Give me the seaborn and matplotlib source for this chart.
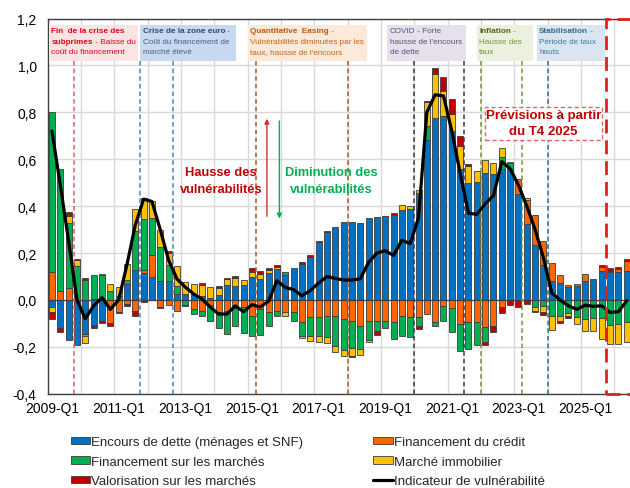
import numpy as np
import pandas as pd
import matplotlib.pyplot as plt
import seaborn as sns
from matplotlib.patches import Rectangle, Patch
from matplotlib.lines import Line2D

sns.set_theme(style="white")
plt.rcParams["font.family"] = ["Liberation Sans", "DejaVu Sans"]

# quarters 2009-Q1 ... 2026-Q2
quarters = [f"{2009 + i // 4}-Q{i % 4 + 1}" for i in range(70)]

# contributions (signed)
encours = [-0.03, -0.12, -0.17, -0.19, -0.145, -0.105, -0.09, 0, 0, 0.07,
           0.128, 0.115, 0.10, 0.08, 0.08, 0.026, 0.025, 0.02, 0.018, 0.01,
           0.02, 0.063, 0.06, 0.065, 0.10, 0.09, 0.115, 0.13, 0.107, 0.135,
           0.153, 0.185, 0.246, 0.29, 0.31, 0.334, 0.334, 0.33, 0.348, 0.352,
           0.36, 0.364, 0.385, 0.388, 0.456, 0.68, 0.774, 0.786, 0.722, 0.558,
           0.499, 0.502, 0.54, 0.537, 0.558, 0.558, 0.452, 0.324, 0.234, 0.149,
           0.082, 0.072, 0.055, 0.058, 0.082, 0.09, 0.125, 0.121, 0.121, 0.125]
credit = [0.12, 0.04, 0.05, 0, -0.008, 0.005, 0.005, -0.10, -0.05, -0.015,
          -0.045, 0.013, 0.09, -0.028, -0.02, -0.045, 0, -0.04, -0.045, -0.02,
          -0.05, -0.045, -0.035, -0.03, -0.07, -0.04, -0.05, -0.045, -0.05, -0.05,
          -0.092, -0.074, -0.074, -0.067, -0.067, -0.081, -0.088, -0.109, -0.088, -0.088,
          -0.088, -0.095, -0.067, -0.074, -0.074, -0.06, -0.095, -0.027, -0.036, -0.102,
          -0.095, -0.095, -0.117, -0.109, -0.031, 0, 0.064, 0.102, 0.128, 0.104,
          0.076, 0.035, 0.009, 0.01, 0.029, 0, 0.014, 0.004, 0.011, 0.043]
marches = [0.68, 0.52, 0.28, 0.145, 0.085, 0.10, 0.10, 0.04, 0.015, 0.015,
           0.165, 0.217, 0.16, 0.145, 0.07, 0.035, -0.02, -0.02, -0.025, -0.07,
           -0.07, -0.10, -0.075, -0.11, -0.085, -0.11, -0.06, -0.025, 0.011, -0.038,
           -0.06, -0.078, -0.078, -0.092, -0.128, -0.131, -0.118, -0.102, -0.081, -0.043,
           -0.031, -0.071, -0.085, -0.085, -0.038, 0.063, -0.017, -0.061, -0.099, -0.114,
           -0.114, -0.097, -0.064, 0, 0.05, 0.026, 0, 0, -0.03, -0.024,
           -0.07, -0.07, -0.057, -0.074, -0.081, -0.078, -0.078, -0.107, -0.102, -0.095]
immo = [-0.02, 0, 0.03, 0.025, -0.03, -0.008, 0.006, 0.03, 0.04, 0.07,
        0.097, 0.088, 0.07, 0.075, 0.05, 0.085, 0.05, 0.05, 0.047, 0.045,
        0.03, 0.027, 0.032, 0.022, 0.018, 0.02, 0.012, 0.012, -0.02, 0,
        -0.011, -0.021, -0.028, -0.024, -0.025, -0.025, -0.031, -0.023, -0.009, 0,
        0, 0, 0.02, 0.014, 0.014, 0.10, 0.19, 0.106, 0.071, 0.10,
        0.074, 0.049, 0.058, 0.046, 0.038, 0.006, 0, 0.01, -0.015, -0.028,
        -0.06, -0.018, -0.01, -0.028, -0.05, -0.056, -0.09, -0.081, -0.085, -0.083]
valo = [-0.03, -0.015, 0.015, 0.005, 0.01, -0.007, -0.008, -0.012, -0.004, -0.01,
        -0.022, -0.007, 0, -0.007, 0.01, 0, -0.005, 0, 0.008, 0,
        0.008, 0.005, 0.012, 0, 0.017, 0.013, 0.008, 0.008, 0, 0,
        0.007, 0.007, 0.007, 0.004, 0, 0, -0.007, 0, 0, -0.018,
        0, 0.005, 0, 0, -0.011, 0.007, 0.025, 0.057, 0.064, 0.04,
        0.007, 0, -0.01, -0.026, -0.024, -0.02, -0.03, -0.017, -0.005, -0.01,
        0, -0.012, -0.011, 0, 0, 0, 0.01, 0.01, 0.007, 0.007]
indicateur = [0.72, 0.49, 0.25, 0.0, -0.08, -0.025, 0.01, -0.04, 0.0, 0.15,
              0.32, 0.43, 0.42, 0.30, 0.17, 0.09, 0.055, 0.026, 0.004, -0.03,
              -0.06, -0.06, -0.025, -0.05, -0.02, -0.03, -0.005, 0.082, 0.054, 0.044,
              0.018, 0.04, 0.072, 0.10, 0.092, 0.085, 0.085, 0.09, 0.16, 0.20,
              0.21, 0.19, 0.255, 0.24, 0.35, 0.80, 0.875, 0.87, 0.72, 0.54,
              0.37, 0.365, 0.41, 0.445, 0.59, 0.56, 0.49, 0.40, 0.30, 0.18,
              0.03, 0.0, -0.025, -0.04, -0.022, -0.027, -0.025, -0.053, -0.05, -0.003]

series = ["Encours de dette (ménages et SNF)", "Financement du crédit",
          "Financement sur les marchés", "Marché immobilier",
          "Valorisation sur les marchés"]
colors = ["#0070c0", "#ff6600", "#00b050", "#ffc000", "#c00000"]
values = [encours, credit, marches, immo, valo]

fig = plt.figure(figsize=(6.3, 4.89), dpi=100)
ax = fig.add_axes([0.0759, 0.1926, 0.952, 0.7675])

idx = np.arange(len(quarters))
pos_base = np.zeros(len(idx))
neg_base = np.zeros(len(idx))
for name, col, vals in zip(series, colors, values):
    v = np.array(vals, dtype=float)
    for mask, base in ((v > 0, pos_base), (v < 0, neg_base)):
        if mask.any():
            sns.barplot(x=idx[mask], y=v[mask], bottom=base[mask], order=list(idx),
                        color=col, saturation=1, width=0.72, errorbar=None,
                        edgecolor="#3c3c3c", linewidth=0.6, ax=ax, zorder=2)
        base[mask] += v[mask]

sns.lineplot(x=idx, y=indicateur, color="black", linewidth=2.3, ax=ax,
             zorder=7, legend=False)

# axes
ax.set_xlim(-0.5, 71.5)
ax.set_ylim(-0.4, 1.2)
yt = np.round(np.arange(-0.4, 1.21, 0.2), 1)
ax.set_yticks(yt)
ax.set_yticklabels([f"{t:.1f}".replace(".", ",") for t in yt], fontsize=10)
ax.set_xticks(idx[::8])
ax.set_xticklabels([quarters[i] for i in idx[::8]], fontsize=10)
ax.set_xticks(np.arange(3.5, 72, 4), minor=True)
ax.tick_params(axis="both", which="both", length=0, colors="black")
ax.tick_params(axis="y", pad=8)
ax.tick_params(axis="x", pad=5)
ax.grid(axis="y", which="major", color="#d9d9d9", lw=1, zorder=0)
ax.grid(axis="x", which="minor", color="#d9d9d9", lw=1, zorder=0)
ax.grid(axis="x", which="major", visible=False)
ax.set_axisbelow(True)
ax.axhline(0, color="#404040", lw=0.9, zorder=3)
for s in ax.spines.values():
    s.set_color("#404040")
    s.set_linewidth(1)
ax.set_xlabel("")
ax.set_ylabel("")

# event boxes
boxes = [
    (-0.36, 10.33, "#fde4e4", "#e3001b", "#e3001b",
     [[("Fin  de la crise des", "bold")], [("subprimes", "bold"), (" - Baisse du", "normal")],
      [("coût du financement", "normal")]], [2.6], "#e06060"),
    (10.57, 22.09, "#c6d9f0", "#2e4a70", "#4a5f80",
     [[("Crise de la zone euro", "bold"), (" -", "normal")], [("Coût du financement de", "normal")],
      [("marché élevé", "normal")]], [10.57, 14.5], "#4f81bd"),
    (23.53, 37.8, "#fde9d9", "#b85c14", "#c0651e",
     [[("Quantitative  Easing", "bold"), (" -", "normal")], [("Vulnérabilités diminuées par les", "normal")],
      [("taux, hausse de l'encours", "normal")]], [24.5, 35.5], "#a85a24"),
    (40.22, 49.7, "#e5e0ec", "#4f3f6e", "#5f4f7e",
     [[("COVID", "normal"), (" - Forte", "normal")], [("hausse de l'encours", "normal")],
      [("de dette", "normal")]], [43.5, 49.5], "#403152"),
    (51.0, 57.75, "#ebf1de", "#4f6228", "#76923c",
     [[("Inflation", "bold"), (" -", "normal")], [("Hausse des", "normal")],
      [("taux", "normal")]], [51.5, 56.4], "#77933c"),
    (58.2, 66.4, "#dbe5f1", "#2e6b8a", "#3b7ba0",
     [[("Stabilisation", "bold"), (" -", "normal")], [("Période de taux", "normal")],
      [("hauts", "normal")]], [59.5], "#31708f"),
]
line_y = [1.148, 1.103, 1.058]
fs_box = 5.9
for x0, x1, face, c_bold, c_norm, lines, dashes, dcol in boxes:
    ax.add_patch(Rectangle((x0, 1.02), x1 - x0, 0.152, facecolor=face,
                           edgecolor="none", zorder=4))
    for ly, parts in zip(line_y, lines):
        txt, w = parts[0]
        t = ax.text(x0 + 0.3, ly, txt, fontsize=fs_box, fontweight=w,
                    color=c_bold if w == "bold" else c_norm, va="center", ha="left", zorder=5)
        for txt, w in parts[1:]:
            t = ax.annotate(txt, xy=(1, 0.5), xycoords=t, fontsize=fs_box, fontweight=w,
                            color=c_bold if w == "bold" else c_norm,
                            va="center", ha="left", zorder=5)
    for d in dashes:
        ax.plot([d, d], [-0.4, 1.02], color=dcol, lw=1.1, ls=(0, (3, 2)), zorder=4)

# middle annotations
for txt, yy in (("Hausse des", 0.546), ("vulnérabilités", 0.473)):
    ax.text(20.3, yy, txt, color="#c00000", fontsize=9.3, fontweight="bold",
            ha="center", va="center", zorder=5)
for txt, yy in (("Diminution des", 0.546), ("vulnérabilités", 0.473)):
    ax.text(33.5, yy, txt, color="#00b050", fontsize=9.3, fontweight="bold",
            ha="center", va="center", zorder=5)
ax.annotate("", xy=(25.8, 0.785), xytext=(25.8, 0.345),
            arrowprops=dict(arrowstyle="-|>", color="#d03030", lw=1, mutation_scale=7))
ax.annotate("", xy=(27.3, 0.335), xytext=(27.3, 0.775),
            arrowprops=dict(arrowstyle="-|>", color="#00b050", lw=1, mutation_scale=7))

# forecast
ax.add_patch(Rectangle((51.98, 0.682), 14.05, 0.141, facecolor="white", edgecolor="#e06666",
                       lw=1, ls=(0, (3, 2)), zorder=5))
ax.text(59.0, 0.789, "Prévisions à partir", color="#c00000", fontsize=9.5,
        fontweight="bold", ha="center", va="center", zorder=6)
ax.text(59.0, 0.72, "du T4 2025", color="#c00000", fontsize=9.5,
        fontweight="bold", ha="center", va="center", zorder=6)
ax.add_patch(Rectangle((66.5, -0.4), 10, 1.6, fill=False, edgecolor="#e02020",
                       lw=2, ls=(0, (5, 2.5)), zorder=8, clip_on=False))

# legend
handles = [Patch(facecolor=colors[0], edgecolor="#3c3c3c", lw=0.6, label=series[0]),
           Patch(facecolor=colors[2], edgecolor="#3c3c3c", lw=0.6, label=series[2]),
           Patch(facecolor=colors[4], edgecolor="#3c3c3c", lw=0.6, label=series[4]),
           Patch(facecolor=colors[1], edgecolor="#3c3c3c", lw=0.6, label=series[1]),
           Patch(facecolor=colors[3], edgecolor="#3c3c3c", lw=0.6, label=series[3]),
           Line2D([], [], color="black", lw=2.3, label="Indicateur de vulnérabilité")]
fig.legend(handles=handles, ncol=2, loc="upper left", bbox_to_anchor=(71 / 630, 1 - 437 / 489),
           frameon=False, fontsize=9.5, handlelength=1.45, handleheight=0.5,
           handletextpad=0.1, columnspacing=5.3, labelspacing=0.58,
           borderpad=0, borderaxespad=0)

fig.savefig("out.png", dpi=100, facecolor="white")
